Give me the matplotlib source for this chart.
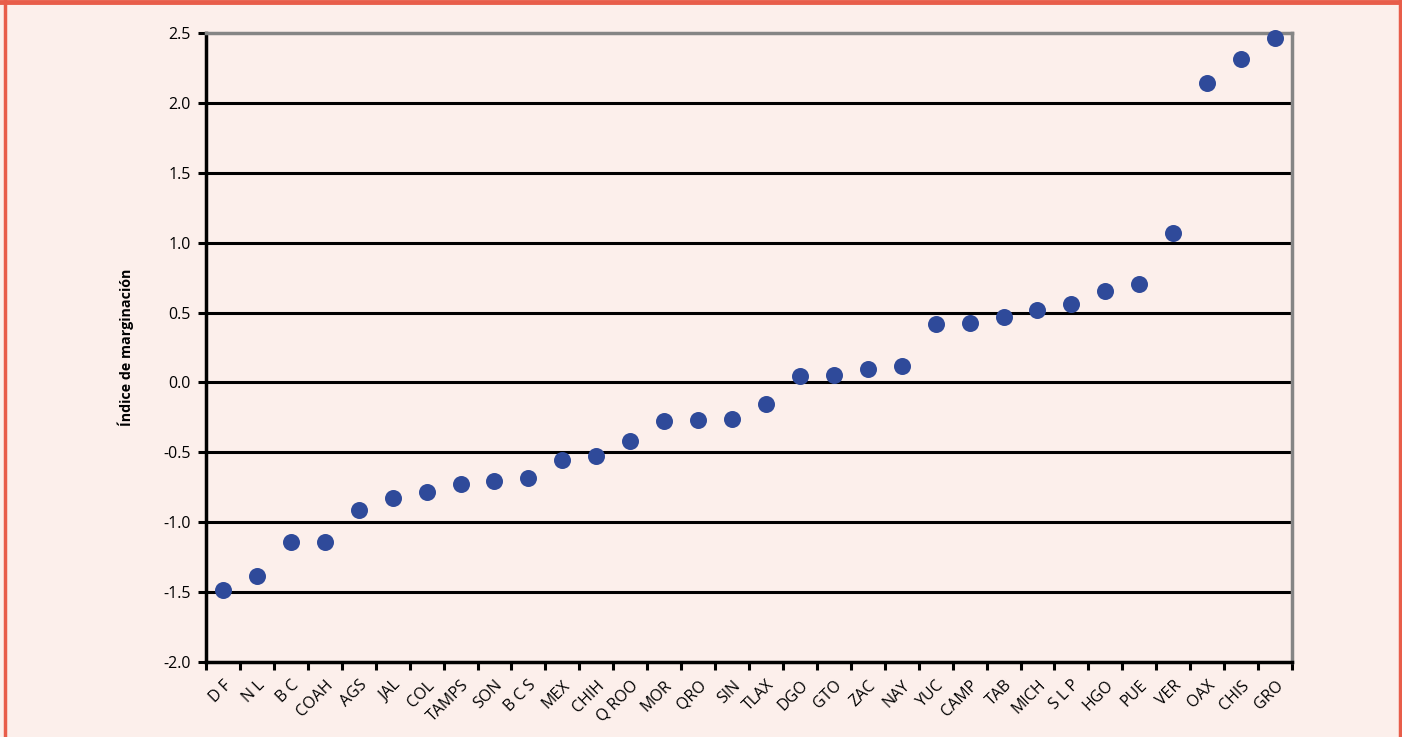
import matplotlib
matplotlib.use("Agg")
import matplotlib.pyplot as plt
from matplotlib.lines import Line2D
import numpy as np

states = ["D F", "N L", "B C", "COAH", "AGS", "JAL", "COL", "TAMPS", "SON", "B C S",
          "MEX", "CHIH", "Q ROO", "MOR", "QRO", "SIN", "TLAX", "DGO", "GTO", "ZAC",
          "NAY", "YUC", "CAMP", "TAB", "MICH", "S L P", "HGO", "PUE", "VER", "OAX",
          "CHIS", "GRO"]
indice = [-1.485, -1.385, -1.14, -1.14, -0.913, -0.827, -0.784, -0.727, -0.705, -0.684,
          -0.555, -0.527, -0.419, -0.276, -0.269, -0.262, -0.155, 0.046, 0.053, 0.096,
          0.117, 0.418, 0.425, 0.468, 0.518, 0.561, 0.654, 0.704, 1.069, 2.142,
          2.314, 2.464]
yticks = [-2.0, -1.5, -1.0, -0.5, 0.0, 0.5, 1.0, 1.5, 2.0, 2.5]

plt.rcParams['font.family'] = ['Open Sans', 'DejaVu Sans']
bg = '#fcefeb'
W, H = 1402, 737
fig = plt.figure(figsize=(W/100, H/100), dpi=100, facecolor=bg)
ax = fig.add_axes([206/W, 1-662/H, (1292-206)/W, (662-33)/H], facecolor=bg)

x = np.arange(len(states)) + 0.5
ax.set_xlim(0, len(states))
ax.set_ylim(-2.0, 2.5)

for v in yticks[1:-1]:
    ax.axhline(v, color='black', lw=2.2, zorder=1)

ax.scatter(x, indice, s=150, color='#2f4a9a', zorder=5, clip_on=False, linewidths=0)

ax.set_yticks(yticks)
ax.set_yticklabels([f"{v:.1f}" for v in yticks], fontsize=11.5)
ax.set_xticks(x)
ax.set_xticklabels(states, rotation=45, ha='right', rotation_mode='anchor', fontsize=11.5)
ax.set_xticks(np.arange(len(states)+1), minor=True)
ax.tick_params(axis='x', which='major', length=0, pad=11)
ax.tick_params(axis='x', which='minor', length=6, width=2.2, direction='out', color='black')
ax.tick_params(axis='y', length=6, width=2.2, direction='out', color='black', pad=5)

for s in ['left', 'bottom']:
    ax.spines[s].set_color('black')
    ax.spines[s].set_linewidth(2.5)
for s in ['top', 'right']:
    ax.spines[s].set_color('#858585')
    ax.spines[s].set_linewidth(2.5)

ax.set_ylabel('Índice de marginación', fontsize=10.3, fontweight='bold', labelpad=21)

border = '#e85d4a'
fig.add_artist(Line2D([0, 1], [1-2/H, 1-2/H], transform=fig.transFigure, color=border, lw=3.5))
fig.add_artist(Line2D([5/W, 5/W], [0, 1], transform=fig.transFigure, color=border, lw=2.5))
fig.add_artist(Line2D([1400/W, 1400/W], [0, 1], transform=fig.transFigure, color=border, lw=2.5))

fig.savefig('out.png', dpi=100, facecolor=bg)
